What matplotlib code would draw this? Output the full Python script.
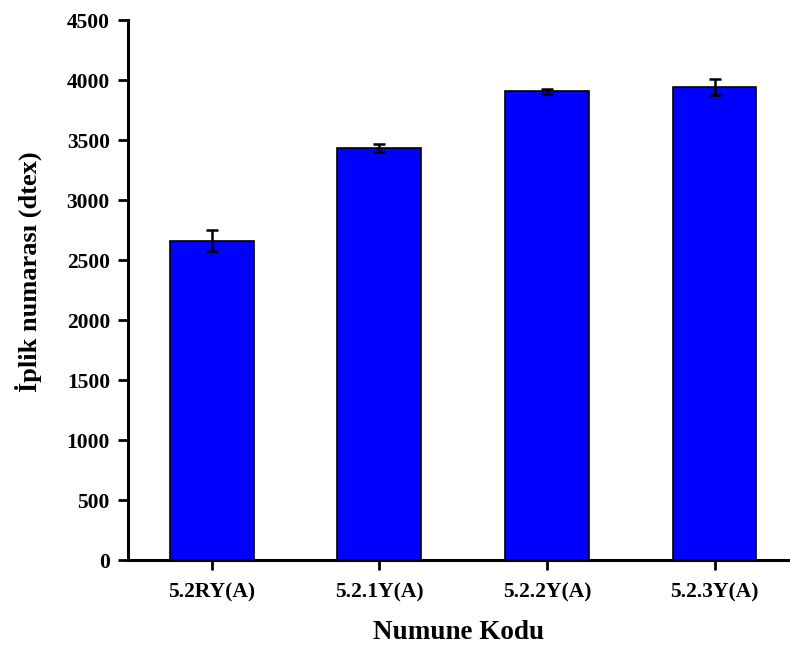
import matplotlib.pyplot as plt
import numpy as np

samples = ['5.2RY(A)', '5.2.1Y(A)', '5.2.2Y(A)', '5.2.3Y(A)']
yarn_count = [2662, 3433, 3908, 3940]
yarn_err = [88, 33, 22, 68]

plt.rcParams['font.family'] = ['Liberation Serif', 'DejaVu Serif']
plt.rcParams['font.weight'] = 'bold'

fig = plt.figure(figsize=(7.9, 6.49), dpi=100)
ax = fig.add_axes([0.162, 0.137, 0.838, 0.832])

x = np.arange(len(samples))
ax.bar(x, yarn_count, width=0.5, color='#0000ff', edgecolor='black', linewidth=1.2,
       yerr=yarn_err, capsize=4, error_kw=dict(elinewidth=1.8, capthick=1.8, ecolor='black'))

ax.set_xlim(-0.5, 3.45)
ax.set_ylim(0, 4500)
ax.set_yticks(np.arange(0, 4501, 500))
ax.set_xticks(x)
ax.set_xticklabels(samples)

for side in ['top', 'right']:
    ax.spines[side].set_visible(False)
for side in ['left', 'bottom']:
    ax.spines[side].set_linewidth(2.2)

ax.tick_params(direction='out', length=7, width=2, labelsize=15.5, pad=6)
ax.tick_params(axis='x', pad=9)
for lab in ax.get_xticklabels() + ax.get_yticklabels():
    lab.set_fontweight('bold')

ax.set_xlabel('Numune Kodu', fontsize=19.5, fontweight='bold', labelpad=13)
ax.set_ylabel('İplik numarası (dtex)', fontsize=19, fontweight='bold')
# label sits a bit above the axis centre in the original
ax.yaxis.set_label_coords(-0.13, 0.535)

fig.savefig('out.png', dpi=100)
